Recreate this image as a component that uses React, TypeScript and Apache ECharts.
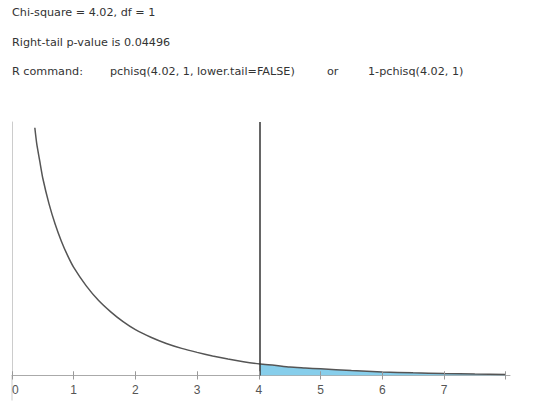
import React, { useEffect, useRef } from "react";
import * as echarts from "echarts";

// Curve readings (x, density)
const curveX = [0.37, 0.4, 0.45, 0.5, 0.6, 0.7, 0.8, 0.9, 1.0, 1.2, 1.4, 1.6, 1.8, 2.0, 2.25, 2.5, 2.75, 3.0, 3.25, 3.5, 3.75, 4.02, 4.25, 4.5, 4.75, 5.0, 5.5, 6.0, 6.5, 7.0, 7.5, 8.0];
const curveY = [0.557, 0.522, 0.482, 0.443, 0.386, 0.34, 0.302, 0.27, 0.243, 0.202, 0.169, 0.143, 0.121, 0.103, 0.086, 0.072, 0.061, 0.052, 0.044, 0.037, 0.031, 0.026, 0.023, 0.019, 0.017, 0.015, 0.011, 0.008, 0.006, 0.0045, 0.0033, 0.0025];
const chiSquare = 4.02;
const tickValues = [0, 1, 2, 3, 4, 5, 6, 7, 8];
const labelValues = [0, 1, 2, 3, 4, 5, 6, 7];
const textLines = [
  "Chi-square = 4.02, df = 1",
  "Right-tail p-value is 0.04496",
];
const rCommand = ["R command:", "pchisq(4.02, 1, lower.tail=FALSE)", "or", "1-pchisq(4.02, 1)"];

export default function App() {
  const ref = useRef<HTMLDivElement>(null);
  useEffect(() => {
    document.body.style.margin = "0";
    const chart = echarts.init(ref.current!, null, { renderer: "svg" });
    const curve = curveX.map((x, i) => [x, curveY[i]]);
    const tail = curve.filter((p) => p[0] >= chiSquare);
    const textStyleBase = { fontFamily: "DejaVu Sans", fontSize: 11.2, fill: "#333" };
    const cmdX = [12, 110, 327, 368];
    const upTicks = tickValues.map((v) => [
      { coord: [v, 0] },
      { coord: [v, 0.0095] },
    ]);
    const texts = [
      ...textLines.map((t, i) => ({
        type: "text",
        left: 12,
        top: 7 + i * 30,
        style: { ...textStyleBase, text: t },
      })),
      ...rCommand.map((t, i) => ({
        type: "text",
        left: cmdX[i],
        top: 66,
        style: { ...textStyleBase, text: t },
      })),
    ];
    chart.setOption({
      animation: false,
      grid: { left: 12, right: 50, top: 122, bottom: 38.5 },
      xAxis: {
        type: "value",
        min: 0,
        max: 8.07,
        interval: 1,
        splitLine: { show: false },
        axisLine: { onZero: false, lineStyle: { color: "#aaa", width: 1 } },
        axisTick: { show: true, length: 4, customValues: tickValues, lineStyle: { color: "#999" } },
        axisLabel: {
          customValues: labelValues,
          alignMinLabel: "left",
          margin: 8,
          color: "#555",
          fontFamily: "Liberation Sans",
          fontSize: 12,
        },
      },
      yAxis: {
        type: "value",
        min: 0,
        max: 0.57,
        splitLine: { show: false },
        axisLine: { show: true, onZero: false, lineStyle: { color: "#ccc" } },
        axisTick: { show: false },
        axisLabel: { show: false },
      },
      series: [
        {
          type: "line",
          data: tail,
          showSymbol: false,
          smooth: 0.2,
          lineStyle: { width: 0 },
          areaStyle: { color: "#87ceeb", opacity: 1 },
          silent: true,
          z: 1,
        },
        {
          type: "line",
          data: curve,
          showSymbol: false,
          smooth: 0.2,
          lineStyle: { color: "#555", width: 1.5 },
          z: 2,
          markLine: {
            silent: true,
            symbol: "none",
            label: { show: false },
            lineStyle: { color: "#333", width: 1.5, type: "solid" },
            data: [[{ coord: [chiSquare, 0] }, { coord: [chiSquare, 0.57] }]],
          },
        },
        {
          type: "line",
          data: [],
          silent: true,
          markLine: {
            silent: true,
            symbol: "none",
            label: { show: false },
            lineStyle: { color: "#999", width: 1, type: "solid" },
            data: upTicks,
          },
        },
      ],
      graphic: texts,
    });
    // extend the y-axis line below the x-axis, as in the reference
    const origin = chart.convertToPixel({ gridIndex: 0 }, [0, 0]) as number[];
    if (origin) {
      chart.setOption({
        graphic: [
          ...texts,
          {
            type: "line",
            silent: true,
            shape: { x1: origin[0], y1: origin[1], x2: origin[0], y2: origin[1] + 25 },
            style: { stroke: "#ccc", lineWidth: 1 },
          },
        ],
      });
    }
    return () => chart.dispose();
  }, []);
  return <div ref={ref} style={{ width: 560, height: 414 }} />;
}
